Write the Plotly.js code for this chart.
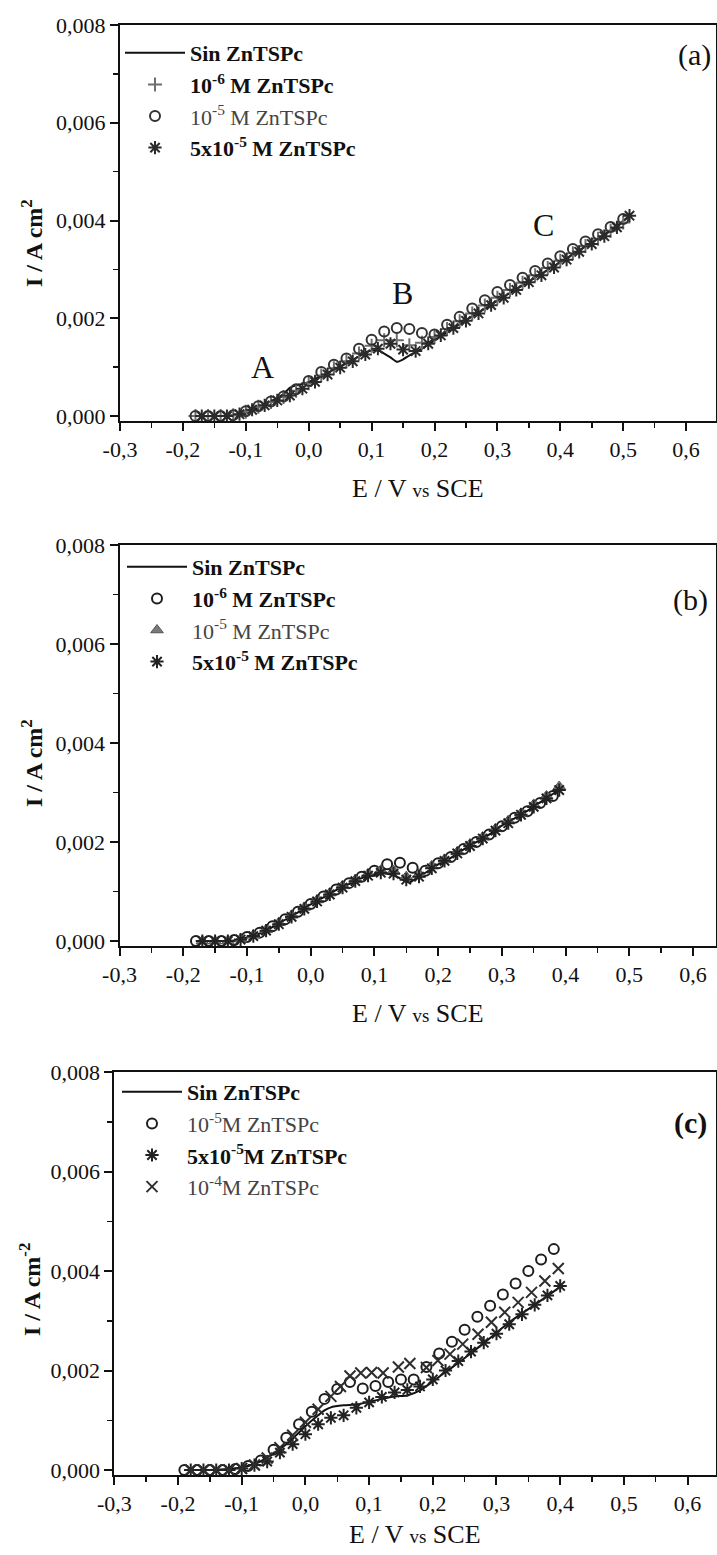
<!DOCTYPE html>
<html><head><meta charset="utf-8">
<script src="https://cdn.plot.ly/plotly-3.0.1.min.js"></script>
<style>html,body{margin:0;padding:0;background:#fff;overflow:hidden}#chart{width:717px;height:1555px}</style>
</head><body><div id="chart"></div><script>
// ---------- tick labels ----------
const xTickVals = [-0.3,-0.2,-0.1,0.0,0.1,0.2,0.3,0.4,0.5,0.6];
const xTickText = ['-0,3','-0,2','-0,1','0,0','0,1','0,2','0,3','0,4','0,5','0,6'];
const yTickVals = [0,0.002,0.004,0.006,0.008];
const yTickText = ['0,000','0,002','0,004','0,006','0,008'];

// ---------- panel (a) ----------
const aLineX = [-0.18,-0.15,-0.12,-0.10,-0.08,-0.06,-0.04,-0.03,-0.02,-0.01,0.00,0.02,0.04,0.06,0.08,0.09,0.10,0.11,0.12,0.13,0.14,0.15,0.16,0.17,0.18,0.20,0.24,0.28,0.32,0.36,0.40,0.44,0.48,0.51];
const aLineY = [0,0,0.00002,0.00008,0.00018,0.00030,0.00045,0.00058,0.00063,0.00066,0.00070,0.00082,0.00095,0.00108,0.00122,0.00130,0.00134,0.00134,0.00128,0.00120,0.00111,0.00116,0.00124,0.00131,0.00138,0.00155,0.00188,0.00220,0.00252,0.00283,0.00315,0.00347,0.00380,0.00410];
const aGridX = [-0.18,-0.16,-0.14,-0.12,-0.10,-0.08,-0.06,-0.04,-0.02,0.00,0.02,0.04,0.06,0.08,0.10,0.12,0.14,0.16,0.18,0.20,0.22,0.24,0.26,0.28,0.30,0.32,0.34,0.36,0.38,0.40,0.42,0.44,0.46,0.48,0.50];
const aPlusY = [0,0,0,0.00002,0.00009,0.00019,0.00029,0.00039,0.00052,0.00067,0.00083,0.00098,0.00112,0.00128,0.00144,0.00155,0.00155,0.00145,0.00150,0.00162,0.00178,0.00194,0.00210,0.00226,0.00242,0.00258,0.00273,0.00288,0.00303,0.00318,0.00333,0.00348,0.00363,0.00379,0.00396];
const aCircY = [0,0,0,0.00002,0.00010,0.00020,0.00030,0.00040,0.00055,0.00072,0.00090,0.00105,0.00118,0.00138,0.00156,0.00173,0.00180,0.00178,0.00170,0.00167,0.00187,0.00203,0.00220,0.00237,0.00254,0.00268,0.00283,0.00297,0.00312,0.00327,0.00342,0.00357,0.00372,0.00387,0.00403];
const aAstX = [-0.17,-0.15,-0.13,-0.11,-0.09,-0.07,-0.05,-0.03,-0.01,0.01,0.03,0.05,0.07,0.09,0.11,0.13,0.15,0.17,0.19,0.21,0.23,0.25,0.27,0.29,0.31,0.33,0.35,0.37,0.39,0.41,0.43,0.45,0.47,0.49,0.51];
const aAstY = [0,0,0,0.00004,0.00013,0.00022,0.00032,0.00042,0.00056,0.00070,0.00085,0.00099,0.00112,0.00126,0.00138,0.00148,0.00136,0.00133,0.00148,0.00165,0.00180,0.00195,0.00210,0.00227,0.00242,0.00258,0.00274,0.00288,0.00304,0.00320,0.00336,0.00352,0.00368,0.00386,0.00410];

// ---------- panel (b) ----------
const bLineX = [-0.18,-0.15,-0.12,-0.10,-0.08,-0.06,-0.04,-0.02,0.00,0.02,0.04,0.06,0.08,0.10,0.11,0.12,0.13,0.14,0.15,0.155,0.16,0.18,0.20,0.22,0.24,0.26,0.28,0.30,0.32,0.34,0.36,0.38,0.39];
const bLineY = [0,0,0.00001,0.00007,0.00015,0.00028,0.00043,0.00058,0.00074,0.00088,0.00103,0.00115,0.00127,0.00135,0.00137,0.00136,0.00133,0.00127,0.00120,0.00118,0.00122,0.00138,0.00155,0.00168,0.00185,0.00200,0.00215,0.00233,0.00248,0.00263,0.00280,0.00297,0.00305];
const bCircX = [-0.18,-0.16,-0.14,-0.12,-0.10,-0.08,-0.06,-0.04,-0.02,0.00,0.02,0.04,0.06,0.08,0.10,0.12,0.14,0.16,0.18,0.20,0.22,0.24,0.26,0.28,0.30,0.32,0.34,0.36,0.38];
const bCircY = [0,0,0,0.00002,0.00008,0.00017,0.00030,0.00044,0.00059,0.00075,0.00090,0.00104,0.00117,0.00130,0.00142,0.00155,0.00158,0.00148,0.00142,0.00157,0.00170,0.00186,0.00200,0.00215,0.00232,0.00249,0.00262,0.00279,0.00293];
const bTriX = [-0.17,-0.15,-0.13,-0.11,-0.09,-0.07,-0.05,-0.03,-0.01,0.01,0.03,0.05,0.07,0.09,0.11,0.13,0.15,0.17,0.19,0.21,0.23,0.25,0.27,0.29,0.31,0.33,0.35,0.37,0.39];
const bTriY = [0,0,0,0.00004,0.00012,0.00023,0.00037,0.00052,0.00068,0.00083,0.00097,0.00112,0.00124,0.00136,0.00143,0.00142,0.00130,0.00135,0.00152,0.00165,0.00180,0.00196,0.00210,0.00227,0.00243,0.00258,0.00276,0.00293,0.00312];
const bAstY = [0,0,0,0.00003,0.00010,0.00021,0.00034,0.00049,0.00065,0.00080,0.00094,0.00108,0.00121,0.00132,0.00138,0.00136,0.00124,0.00130,0.00147,0.00162,0.00177,0.00192,0.00207,0.00223,0.00238,0.00255,0.00271,0.00288,0.00305];

// ---------- panel (c) ----------
const cLineX = [-0.19,-0.15,-0.12,-0.10,-0.08,-0.06,-0.04,-0.02,0.00,0.02,0.03,0.04,0.06,0.08,0.10,0.12,0.14,0.16,0.18,0.20,0.22,0.24,0.26,0.28,0.30,0.32,0.34,0.36,0.38,0.40];
const cLineY = [0,0,0.00002,0.00005,0.00012,0.00025,0.00042,0.00063,0.00088,0.00110,0.00120,0.00126,0.00130,0.00132,0.00137,0.00143,0.00148,0.00150,0.00160,0.00178,0.00197,0.00215,0.00235,0.00255,0.00276,0.00297,0.00315,0.00332,0.00350,0.00368];
const cCircX = [-0.19,-0.17,-0.15,-0.13,-0.11,-0.09,-0.07,-0.05,-0.03,-0.01,0.01,0.03,0.05,0.07,0.09,0.11,0.13,0.15,0.17,0.19,0.21,0.23,0.25,0.27,0.29,0.31,0.33,0.35,0.37,0.39];
const cCircY = [0,0,0,0,0.00002,0.00008,0.00019,0.00041,0.00065,0.00092,0.00117,0.00143,0.00163,0.00177,0.00164,0.00169,0.00177,0.00182,0.00182,0.00207,0.00234,0.00258,0.00282,0.00308,0.00330,0.00353,0.00375,0.00400,0.00423,0.00444];
const cAstX = [-0.18,-0.16,-0.14,-0.12,-0.10,-0.08,-0.06,-0.04,-0.02,0.00,0.02,0.04,0.06,0.08,0.10,0.12,0.14,0.16,0.18,0.20,0.22,0.24,0.26,0.28,0.30,0.32,0.34,0.36,0.38,0.40];
const cAstY = [0,0,0,0,0.00003,0.00010,0.00017,0.00035,0.00052,0.00072,0.00092,0.00105,0.00110,0.00125,0.00136,0.00147,0.00156,0.00161,0.00168,0.00182,0.00200,0.00219,0.00238,0.00256,0.00274,0.00293,0.00313,0.00332,0.00351,0.00370];
const cXX = [-0.18,-0.16,-0.14,-0.12,-0.10,-0.08,-0.06,-0.04,-0.02,0.00,0.02,0.04,0.055,0.07,0.087,0.104,0.122,0.146,0.164,0.19,0.208,0.227,0.247,0.271,0.292,0.313,0.334,0.355,0.376,0.397];
const cXY = [0,0,0,0,0.00003,0.00010,0.00024,0.00045,0.00070,0.00096,0.00122,0.00148,0.00168,0.00189,0.00195,0.00196,0.00195,0.00207,0.00214,0.00206,0.00220,0.00233,0.00253,0.00273,0.00297,0.00317,0.00337,0.00357,0.00380,0.00405];

// ---------- legend names ----------
const namesA = ['<b>Sin ZnTSPc</b>','<b>10<sup>-6</sup> M ZnTSPc</b>','<span style="color:#444">10<sup>-5</sup> M ZnTSPc</span>','<b>5x10<sup>-5</sup> M ZnTSPc</b>'];
const namesB = ['<b>Sin ZnTSPc</b>','<b>10<sup>-6</sup> M ZnTSPc</b>','<span style="color:#444">10<sup>-5</sup> M ZnTSPc</span>','<b>5x10<sup>-5</sup> M ZnTSPc</b>'];
const namesC = ['<b>Sin ZnTSPc</b>','<span style="color:#444">10<sup>-5</sup>M ZnTSPc</span>','<b>5x10<sup>-5</sup>M ZnTSPc</b>','<span style="color:#444">10<sup>-4</sup>M ZnTSPc</span>'];

const F = 'Liberation Serif, Times New Roman, serif';
const W = 717, H = 1555;

function lineTr(x,y,name,xa,ya,lg){return {x,y,name,xaxis:xa,yaxis:ya,legend:lg,type:'scatter',mode:'lines',line:{color:'#111',width:2,shape:'spline',smoothing:0.6}};}
function mk(x,y,name,xa,ya,lg,sym,col,size){return {x,y,name,xaxis:xa,yaxis:ya,legend:lg,type:'scatter',mode:'markers',marker:{symbol:sym,size:size,color:col,line:{color:col,width:2}}};}

const traces = [
  lineTr(aLineX,aLineY,namesA[0],'x','y','legend'),
  mk(aGridX,aPlusY,namesA[1],'x','y','legend','cross-thin-open','#6e6e6e',10),
  mk(aGridX,aCircY,namesA[2],'x','y','legend','circle-open','#333',10),
  mk(aAstX,aAstY,namesA[3],'x','y','legend','asterisk-open','#2a2a2a',11),

  lineTr(bLineX,bLineY,namesB[0],'x2','y2','legend2'),
  mk(bCircX,bCircY,namesB[1],'x2','y2','legend2','circle-open','#1e1e1e',10),
  {x:bTriX,y:bTriY,name:namesB[2],xaxis:'x2',yaxis:'y2',legend:'legend2',type:'scatter',mode:'markers',marker:{symbol:'triangle-up',size:11,color:'#7a7a7a',line:{color:'#555',width:1}}},
  mk(bTriX,bAstY,namesB[3],'x2','y2','legend2','asterisk-open','#222',11),

  lineTr(cLineX,cLineY,namesC[0],'x3','y3','legend3'),
  mk(cCircX,cCircY,namesC[1],'x3','y3','legend3','circle-open','#1e1e1e',10),
  mk(cAstX,cAstY,namesC[2],'x3','y3','legend3','asterisk-open','#222',11),
  mk(cXX,cXY,namesC[3],'x3','y3','legend3','x-thin-open','#2e2e2e',11)
];

const xTitle = 'E / V <span style="font-size:19px">vs</span> SCE';
function xa(left,max,anchor){
  return {domain:[left/W,716/W],range:[-0.3,max],anchor:anchor,tickmode:'array',tickvals:xTickVals,ticktext:xTickText,
    ticks:'outside',ticklen:8,tickwidth:2,tickcolor:'#111',showline:true,linewidth:2,linecolor:'#111',mirror:true,
    showgrid:false,zeroline:false,automargin:false,fixedrange:true,
    minor:{ticks:'outside',dtick:0.05,tick0:-0.3,ticklen:5,tickwidth:1.5,tickcolor:'#111',showgrid:false},
    tickfont:{family:F,size:22,color:'#111'}};
}
function ya(top,bottom,anchor){
  return {domain:[1-bottom/H,1-top/H],range:[-0.0001,0.008],anchor:anchor,tickmode:'array',tickvals:yTickVals,ticktext:yTickText,
    ticks:'outside',ticklen:8,tickwidth:2,tickcolor:'#111',showline:true,linewidth:2,linecolor:'#111',mirror:true,
    showgrid:false,zeroline:false,automargin:false,fixedrange:true,
    minor:{ticks:'outside',dtick:0.001,tick0:0,ticklen:5,tickwidth:1.5,tickcolor:'#111',showgrid:false},
    tickfont:{family:F,size:22,color:'#111'}};
}
function leg(xpx,ypx){return {x:xpx/W,y:1-ypx/H,xanchor:'left',yanchor:'top',bgcolor:'rgba(0,0,0,0)',borderwidth:0,
  font:{family:F,size:22,color:'#111'},itemwidth:60,tracegroupgap:0,traceorder:'normal'};}

function ytitle(txt,xpx,ypx){return {text:txt,xref:'paper',yref:'paper',x:xpx/W,y:1-ypx/H,showarrow:false,textangle:-90,
  font:{family:F,size:24,color:'#111'},xanchor:'center',yanchor:'middle'};}
function xtitle(xpx,ypx){return {text:xTitle,xref:'paper',yref:'paper',x:xpx/W,y:1-ypx/H,showarrow:false,
  font:{family:F,size:26,color:'#111'},xanchor:'center',yanchor:'middle'};}
function plabel(txt,xpx,ypx){return {text:txt,xref:'paper',yref:'paper',x:xpx/W,y:1-ypx/H,showarrow:false,
  font:{family:F,size:30,color:'#111'},xanchor:'center',yanchor:'middle'};}
function peak(txt,x,y){return {text:txt,xref:'x',yref:'y',x:x,y:y,showarrow:false,font:{family:F,size:32,color:'#111'}};}

const layout = {
  width:W,height:H,margin:{l:0,r:0,t:0,b:0,pad:0},
  paper_bgcolor:'#fff',plot_bgcolor:'#fff',font:{family:F,color:'#111'},showlegend:true,
  xaxis:xa(120,0.6475,'y'), yaxis:ya(25,421,'x'),
  xaxis2:xa(119.5,0.636,'y2'), yaxis2:ya(545,946,'x2'),
  xaxis3:xa(114.3,0.6446,'y3'), yaxis3:ya(1072,1475,'x3'),
  legend:leg(120,32), legend2:leg(122,546), legend3:leg(117,1071),
  annotations:[
    ytitle('<b>I / A cm<sup>2</sup></b>',32,243),
    ytitle('<b>I / A cm<sup>2</sup></b>',32,763),
    ytitle('<b>I / A cm<sup>-2</sup></b>',30,1290),
    xtitle(418,488), xtitle(418,1013), xtitle(415,1534),
    plabel('(a)',694,55), plabel('(b)',690,600), plabel('<b>(c)</b>',690,1123),
    peak('A',-0.073,0.00101), peak('B',0.149,0.00251), peak('C',0.374,0.0039)
  ]
};
Plotly.newPlot('chart',traces,layout,{staticPlot:true,displayModeBar:false});
</script></body></html>
